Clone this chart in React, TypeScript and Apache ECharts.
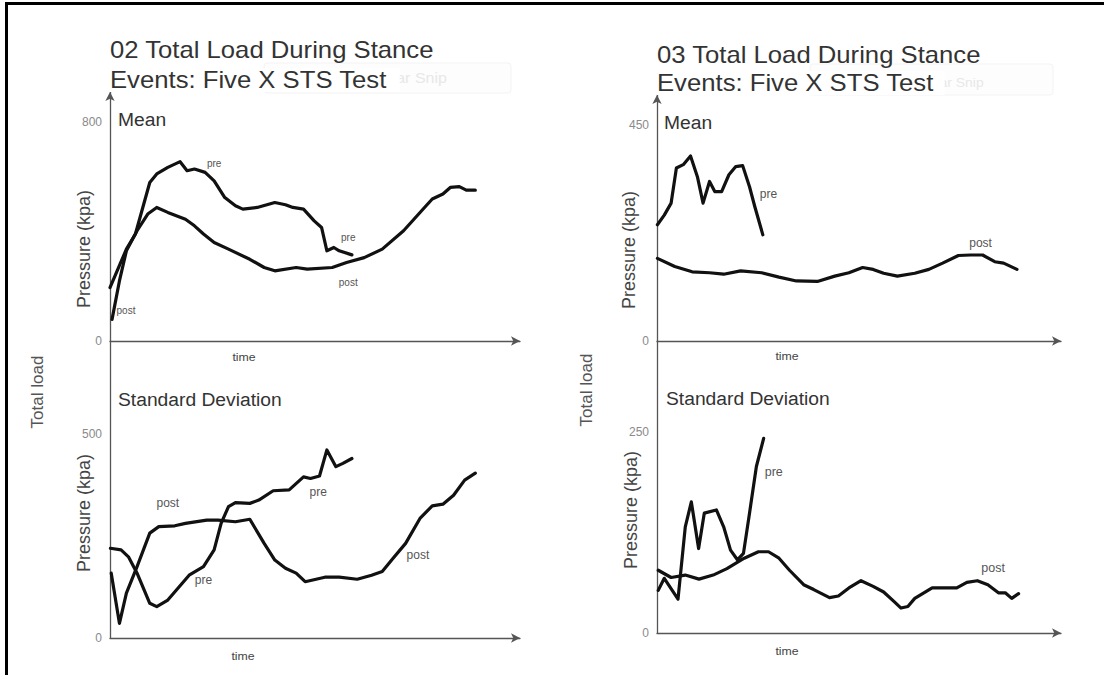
import React, { useEffect, useRef } from "react";
import * as echarts from "echarts";

// ---------- data (time is normalised 0..100 along each axis) ----------
const leftMeanPre = [[0, 195], [4, 335], [6.2, 390], [9.7, 578], [11.4, 609], [14.1, 633], [17.1, 654], [18.8, 621], [20.6, 627], [23.2, 615], [25.4, 584], [28, 523], [30.6, 493], [32.4, 481], [35.9, 487], [40.2, 505], [42.8, 497], [44.6, 487], [47.2, 481], [49.8, 438], [51.6, 414], [52.9, 329], [54.6, 341], [55.9, 329], [59, 314]];
const leftMeanPost = [[0.5, 79], [2.3, 219], [4, 329], [6.6, 402], [9.2, 463], [11.4, 487], [14.1, 469], [18.4, 444], [20.6, 420], [22.8, 390], [25.4, 359], [28.9, 335], [34.1, 298], [37.6, 268], [40.2, 256], [45.4, 268], [48.1, 262], [54.2, 268], [57.7, 286], [62, 304], [66.4, 335], [71.6, 402], [76, 475], [78.6, 518], [81.2, 536], [83, 560], [85.2, 563], [86.9, 550], [89.1, 550]];
const leftSdPre = [[0.1, 220], [2.7, 216], [4.5, 199], [6.6, 159], [9.7, 85], [11.4, 77], [14.1, 93], [19.3, 154], [22.8, 175], [25.4, 216], [27.1, 281], [28.9, 322], [30.6, 332], [34.1, 330], [36.3, 338], [39.8, 361], [43.7, 363], [47.2, 395], [48.9, 391], [51.1, 397], [52.9, 461], [55.1, 420], [56.8, 428], [59, 440]];
const leftSdPost = [[0.3, 159], [2.3, 36], [4, 110], [6.6, 175], [9.7, 257], [11.9, 273], [15.8, 275], [18.4, 281], [23.6, 289], [26.3, 289], [30.6, 285], [34.1, 291], [37.6, 232], [40.2, 191], [42.8, 171], [45.4, 159], [47.6, 138], [52.4, 149], [55.9, 149], [60.3, 144], [63.8, 154], [66.4, 163], [69, 195], [72.1, 232], [75.6, 293], [78.6, 324], [81.2, 328], [83.8, 350], [86.5, 387], [89.1, 404]];
const rightMeanPre = [[0.1, 242], [1.8, 262], [3.5, 287], [4.8, 360], [6.5, 367], [8.3, 385], [10, 342], [11.4, 287], [13, 332], [14.3, 311], [16, 311], [17.8, 346], [19.5, 363], [21.2, 365], [22.9, 321], [24.2, 280], [26.2, 221]];
const rightMeanPost = [[0.1, 172], [4.4, 155], [8.7, 144], [13, 142], [16.5, 139], [20.7, 146], [25.9, 142], [30.2, 133], [34.5, 125], [39.7, 124], [44, 135], [47.5, 142], [50.9, 153], [53.5, 149], [56.1, 141], [59.5, 135], [63.8, 141], [67.3, 149], [70.7, 162], [74.6, 178], [77.6, 179], [80.6, 179], [83.6, 165], [85.8, 162], [89.1, 149]];
const rightSdPre = [[0.3, 53], [1.8, 68], [5.2, 42], [7, 132], [8.5, 163], [10.3, 105], [11.7, 149], [14.7, 153], [16.5, 132], [18.2, 103], [19.9, 91], [21.4, 99], [22.9, 149], [24.6, 207], [26.4, 242]];
const rightSdPost = [[0.3, 78], [3.5, 69], [7, 72], [10.4, 67], [13.9, 72], [17.3, 80], [21.6, 93], [25.1, 101], [27.6, 101], [30.2, 93], [32.8, 78], [36.3, 60], [38.8, 54], [42.7, 44], [44.9, 46], [47.5, 56], [50.5, 65], [53.5, 58], [56.1, 51], [58.7, 39], [60.4, 31], [62.1, 33], [63.8, 43], [68.1, 56], [74.2, 56], [76.7, 63], [79.3, 65], [81.9, 60], [84.5, 50], [86.2, 50], [87.8, 43], [89.5, 49]];

const leftMeanLabels = [{ name: "pre", t: 25.4, v: 647 }, { name: "pre", t: 58.1, v: 376 }, { name: "post", t: 58.1, v: 212 }, { name: "post", t: 3.9, v: 110 }];
const leftSdLabels = [{ name: "post", t: 14.1, v: 331 }, { name: "pre", t: 22.8, v: 142 }, { name: "pre", t: 50.8, v: 358 }, { name: "post", t: 75.1, v: 203 }];
const rightMeanLabels = [{ name: "pre", t: 27.6, v: 306 }, { name: "post", t: 80.1, v: 204 }];
const rightSdLabels = [{ name: "pre", t: 28.9, v: 200 }, { name: "post", t: 83.2, v: 81 }];

const titles = ["02 Total Load During Stance", "Events: Five X STS Test", "03 Total Load During Stance"];
const yTicks = [800, 500, 450, 250];
const yMax = [908, 728, 512, 363];

const FONT = '"Liberation Sans", Arial, Helvetica, sans-serif';
const SX = 1.07;

function txt(text: string, x: number, y: number, size: number, color: string, opts: any = {}) {
  const align = opts.align || "left";
  const style: any = {
    text,
    x: 0,
    y: 0,
    fill: color,
    font: `${size}px ${FONT}`,
    align,
    verticalAlign: "middle",
    textAlign: align,
    textVerticalAlign: "middle",
  };
  if (opts.bg) {
    style.backgroundColor = opts.bg;
    style.padding = opts.padding || [0, 0, 0, 0];
  }
  return {
    type: "text",
    x,
    y,
    rotation: opts.rotate || 0,
    scaleX: opts.rotate ? 1 : SX,
    z: opts.z || 10,
    silent: true,
    style,
  };
}

function series(idx: number, data: number[][], labels?: any[], labelSize = 12) {
  const s: any = {
    type: "line",
    xAxisIndex: idx,
    yAxisIndex: idx,
    data,
    showSymbol: false,
    symbol: "none",
    smooth: false,
    lineStyle: { color: "#111", width: 3.2, join: "round", cap: "round" },
    z: 3,
  };
  if (labels) {
    s.markPoint = {
      silent: true,
      symbol: "circle",
      symbolSize: 1,
      itemStyle: { color: "rgba(0,0,0,0)" },
      label: { show: true, position: "inside", formatter: "{b}", color: "#555", fontSize: labelSize, fontFamily: FONT },
      data: labels.map((l) => ({ name: l.name, coord: [l.t, l.v] })),
    };
  }
  return s;
}

export default function App() {
  const ref = useRef<HTMLDivElement>(null);
  useEffect(() => {
    document.body.style.margin = "0";
    const chart = echarts.init(ref.current!, null, { renderer: "svg" });
    const axisColor = "#555";
    const xAxis = (i: number) => ({
      type: "value",
      gridIndex: i,
      min: 0,
      max: 100,
      axisLine: { show: true, lineStyle: { color: axisColor, width: 1.3 }, symbol: ["none", "arrow"], symbolSize: [7, 9] },
      axisTick: { show: false },
      axisLabel: { show: false },
      splitLine: { show: false },
    });
    const yAxis = (i: number, arrow: boolean) => ({
      type: "value",
      gridIndex: i,
      min: 0,
      max: yMax[i],
      interval: yTicks[i],
      axisLine: { show: true, lineStyle: { color: axisColor, width: 1.3 }, symbol: arrow ? ["none", "arrow"] : ["none", "none"], symbolSize: [7, 9] },
      axisTick: { show: false },
      splitLine: { show: false },
      axisLabel: {
        show: true,
        color: "#8a8a8a",
        fontSize: 12,
        fontFamily: FONT,
        margin: 8,
        showMaxLabel: false,
        formatter: (v: number) => (v === 0 || v === yTicks[i] ? String(v) : ""),
      },
    });

    const graphic: any[] = [
      // outer frame
      { type: "line", shape: { x1: 5, y1: 3.5, x2: 1104, y2: 3.5 }, style: { stroke: "#000", lineWidth: 3 }, z: 20 },
      { type: "line", shape: { x1: 6.5, y1: 2, x2: 6.5, y2: 675 }, style: { stroke: "#000", lineWidth: 3 }, z: 20 },
      // faint snipping-tool remnants
      { type: "rect", shape: { x: 264, y: 63, width: 247, height: 30, r: 3 }, style: { fill: "#fdfdfd", stroke: "#f3f3f3", lineWidth: 1 }, z: 1 },
      { type: "rect", shape: { x: 810, y: 64, width: 243, height: 31, r: 3 }, style: { fill: "#fdfdfd", stroke: "#f3f3f3", lineWidth: 1 }, z: 1 },
      txt("Rectangular Snip", 324, 78, 15, "#e8e8e8", { z: 2 }),
      txt("Rectangular Snip", 877, 83, 13, "#e8e8e8", { z: 2 }),
      // titles
      txt(titles[0], 110, 50, 24, "#333"),
      txt(titles[1], 110, 80, 24, "#333", { bg: "#fff", padding: [0, 12, 0, 0] }),
      txt(titles[2], 657, 54.5, 24, "#333"),
      txt(titles[1], 657, 83, 24, "#333", { bg: "#fff", padding: [0, 10, 0, 0] }),
      // panel captions
      txt("Mean", 118, 120, 18, "#333"),
      txt("Standard Deviation", 118, 400, 18, "#333"),
      txt("Mean", 664, 122.5, 18, "#333"),
      txt("Standard Deviation", 666, 398.5, 18, "#333"),
      // axis titles
      txt("Pressure (kpa)", 84, 249, 18, "#444", { rotate: Math.PI / 2, align: "center" }),
      txt("Pressure (kpa)", 84, 513, 18, "#444", { rotate: Math.PI / 2, align: "center" }),
      txt("Pressure (kpa)", 629, 250, 18, "#444", { rotate: Math.PI / 2, align: "center" }),
      txt("Pressure (kpa)", 631, 510, 18, "#444", { rotate: Math.PI / 2, align: "center" }),
      txt("Total load", 37.5, 392, 17, "#555", { rotate: Math.PI / 2, align: "center" }),
      txt("Total load", 586, 390, 17, "#555", { rotate: Math.PI / 2, align: "center" }),
      txt("time", 244, 357, 11.5, "#444", { align: "center" }),
      txt("time", 243, 656, 11.5, "#444", { align: "center" }),
      txt("time", 787, 356, 11.5, "#444", { align: "center" }),
      txt("time", 787, 651, 11.5, "#444", { align: "center" }),
    ];

    chart.setOption({
      animation: false,
      backgroundColor: "#fff",
      textStyle: { fontFamily: FONT },
      grid: [
        { left: 110, top: 92, width: 410, height: 249 },
        { left: 110, top: 341, width: 410, height: 297 },
        { left: 657, top: 95, width: 404, height: 246 },
        { left: 657, top: 341, width: 404, height: 292 },
      ],
      xAxis: [xAxis(0), xAxis(1), xAxis(2), xAxis(3)],
      yAxis: [yAxis(0, true), yAxis(1, false), yAxis(2, true), yAxis(3, false)],
      series: [
        series(0, leftMeanPre, leftMeanLabels, 10),
        series(0, leftMeanPost),
        series(1, leftSdPre, leftSdLabels, 12),
        series(1, leftSdPost),
        series(2, rightMeanPre, rightMeanLabels, 12),
        series(2, rightMeanPost),
        series(3, rightSdPre, rightSdLabels, 12.5),
        series(3, rightSdPost),
      ],
      graphic,
    });
    return () => chart.dispose();
  }, []);
  return <div ref={ref} style={{ width: 1104, height: 675 }} />;
}
